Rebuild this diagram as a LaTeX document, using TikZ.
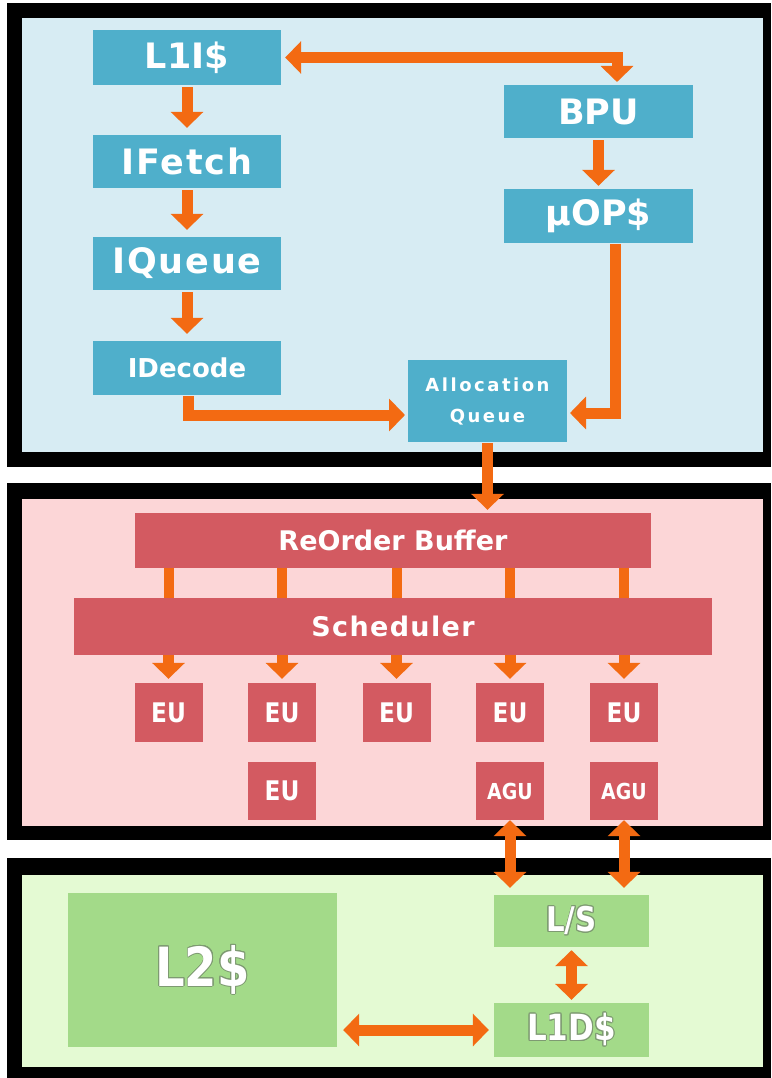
\documentclass[tikz,border=0pt]{standalone}
\usepackage{fontspec}
\usepackage{contour}
\contourlength{0.9pt}
\setmainfont{DejaVu Sans}
\newfontfamily\cnd[FakeStretch=0.86]{DejaVu Sans}
\newfontfamily\spc[LetterSpace=14]{DejaVu Sans}
\newfontfamily\spcs[LetterSpace=5]{DejaVu Sans}
\usetikzlibrary{arrows.meta}
\definecolor{bluebg}{HTML}{D7ECF3}
\definecolor{bluebox}{HTML}{4FAFCB}
\definecolor{pinkbg}{HTML}{FCD6D7}
\definecolor{redbox}{HTML}{D35A61}
\definecolor{greenbg}{HTML}{E4FAD3}
\definecolor{greenbox}{HTML}{A3DA89}
\definecolor{greenedge}{HTML}{7E9A72}
\definecolor{arr}{HTML}{F36A12}
\tikzset{
  bx/.style={inner sep=0pt, text=white, font=\bfseries},
  bluebx/.style={bx, fill=bluebox},
  redbx/.style={bx, fill=redbox},
  greenbx/.style={bx, fill=greenbox},
  conn/.style={draw=arr, line width=11pt},
  arw/.style={conn, -{Triangle[width=32pt,length=16pt]}},
  darw/.style={conn, {Triangle[width=32pt,length=16pt]}-{Triangle[width=32pt,length=16pt]}},
}
\begin{document}
\begin{tikzpicture}[x=1pt,y=-1pt]
\useasboundingbox (0,0) rectangle (771,1078);
\fill[white] (0,0) rectangle (771,1078);
% panels
\fill[black] (7,3) rectangle (771,467);
\fill[bluebg] (22,18) rectangle (763,452);
\fill[black] (7,483) rectangle (771,840);
\fill[pinkbg] (22,499) rectangle (763,826);
\fill[black] (7,858) rectangle (771,1078);
\fill[greenbg] (22,875) rectangle (763,1067);

% front end
\node[bluebx, minimum width=188pt, minimum height=55pt, font=\bfseries\fontsize{35}{40}\selectfont] (l1i) at (187,57.5) {L1I\$};
\node[bluebx, minimum width=188pt, minimum height=53pt, font=\bfseries\spcs\fontsize{35}{40}\selectfont] (ifetch) at (187,161.5) {IFetch};
\node[bluebx, minimum width=188pt, minimum height=53pt, font=\bfseries\spcs\fontsize{35}{40}\selectfont] (iqueue) at (187,263.5) {IQueue};
\node[bluebx, minimum width=188pt, minimum height=54pt, font=\bfseries\fontsize{26}{30}\selectfont] (idecode) at (187,368) {IDecode};
\node[bluebx, minimum width=189pt, minimum height=53pt, font=\bfseries\fontsize{35}{40}\selectfont] (bpu) at (598.5,111.5) {BPU};
\node[bluebx, minimum width=189pt, minimum height=54pt, font=\bfseries\fontsize{35}{40}\selectfont] (uop) at (598.5,216) {μOP\$};
\node[bluebx, minimum width=159pt, minimum height=82pt, align=center, font=\bfseries\spc\fontsize{18}{31}\selectfont] (aq) at (487.5,401) {Allocation\\Queue};

\coordinate (bpuin) at (617,82);
\coordinate (uopout) at (615,244);
\coordinate (aqin) at (570,413);
\coordinate (decout) at (188,396);
\coordinate (aqleft) at (405,415);

\draw[arw, shorten <=2pt, shorten >=7pt] (l1i) -- (ifetch);
\draw[arw, shorten <=2pt, shorten >=7pt] (ifetch) -- (iqueue);
\draw[arw, shorten <=2pt, shorten >=7pt] (iqueue) -- (idecode);
\draw[darw, shorten <=4pt] (l1i.east) -| (bpuin);
\draw[arw, shorten <=2pt, shorten >=3pt] (bpu) -- (uop);
\draw[arw] (uopout) |- (aqin);
\draw[arw] (decout) |- (aqleft);

% back end
\node[redbx, minimum width=516pt, minimum height=55pt, font=\bfseries\fontsize{27}{30}\selectfont] (rob) at (393,540.5) {ReOrder Buffer};
\node[redbx, minimum width=638pt, minimum height=57pt, font=\bfseries\spcs\fontsize{27}{30}\selectfont] (sched) at (393,626.5) {Scheduler};
\draw[arw, shorten <=1pt, shorten >=3pt] (aq) -- (aq |- rob.north);

\foreach \n/\x in {1/168.5,2/282,3/396.5,4/510,5/624}{
  \node[redbx, minimum width=68pt, minimum height=59pt, font=\bfseries\cnd\fontsize{27}{30}\selectfont] (eu\n) at (\x,712.5) {EU};
}
\node[redbx, minimum width=68pt, minimum height=58pt, font=\bfseries\cnd\fontsize{27}{30}\selectfont] (eu6) at (282,791) {EU};
\node[redbx, minimum width=68pt, minimum height=58pt, font=\bfseries\cnd\fontsize{22}{26}\selectfont] (agu1) at (510,791) {AGU};
\node[redbx, minimum width=68pt, minimum height=58pt, font=\bfseries\cnd\fontsize{22}{26}\selectfont] (agu2) at (624,791) {AGU};

\foreach \n in {1,...,5}{
  \draw[conn, line width=10pt] (rob.south -| eu\n) -- (sched.north -| eu\n);
  \draw[arw, shorten >=4pt] (sched.south -| eu\n) -- (eu\n.north);
}

% memory
\node[greenbx, minimum width=269pt, minimum height=154pt, font=\bfseries\cnd\fontsize{54}{60}\selectfont] (l2) at (202.5,970) {\contour{greenedge}{L2\$}};
\node[greenbx, minimum width=155pt, minimum height=52pt, font=\bfseries\cnd\fontsize{34}{40}\selectfont] (ls) at (571.5,921) {\contour{greenedge}{L/S}};
\node[greenbx, minimum width=155pt, minimum height=54pt, font=\bfseries\cnd\fontsize{36}{40}\selectfont] (l1d) at (571.5,1030) {\contour{greenedge}{L1D\$}};

\draw[darw, shorten <=0pt, shorten >=7pt] (agu1.south) -- (agu1.south |- ls.north);
\draw[darw, shorten <=0pt, shorten >=7pt] (agu2.south) -- (agu2.south |- ls.north);
\draw[darw, shorten <=3pt, shorten >=3pt] (ls) -- (l1d);
\draw[darw, shorten <=6pt, shorten >=5pt] (l2.east |- l1d) -- (l1d.west);
\end{tikzpicture}
\end{document}
